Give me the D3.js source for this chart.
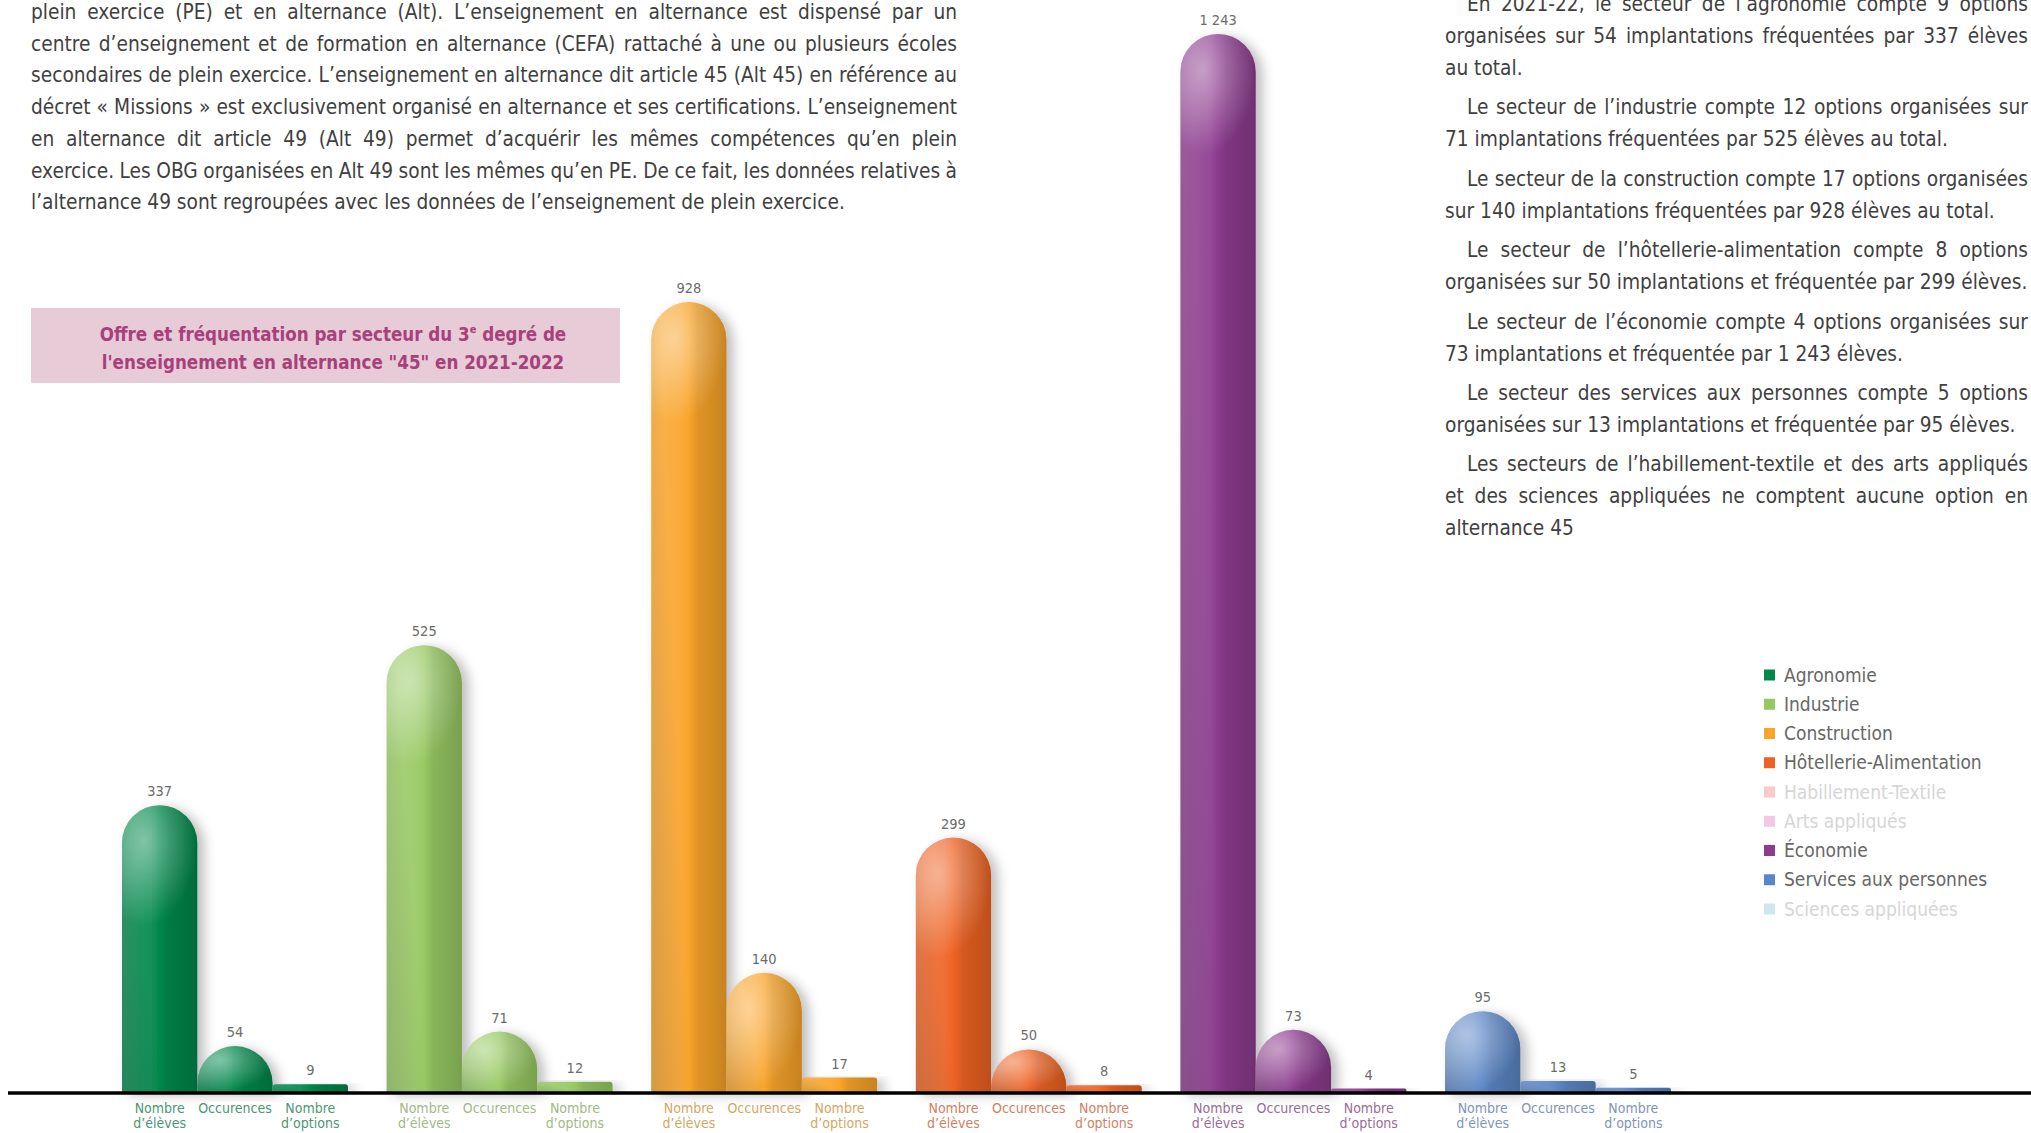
<!DOCTYPE html>
<html>
<head>
<meta http-equiv="Content-type" content="text/html; charset=utf-8">
<title>Alternance 45 - 2021-2022</title>
<script src="https://cdn.jsdelivr.net/npm/d3@7"></script>
<style>
  body { margin: 0; background: #fff; overflow: hidden; }
  svg text { font-family: "Liberation Sans Narrow", "DejaVu Sans Condensed", "Roboto", sans-serif; }
</style>
</head>
<body>
<svg id="chart" width="2031" height="1133"></svg>
<script>

// sectors that have bars
var sectors = ["Agronomie", "Industrie", "Construction", "Hôtellerie-Alimentation", "Économie", "Services aux personnes"];
var eleves = [337, 525, 928, 299, 1243, 95];
var occurences = [54, 71, 140, 50, 73, 13];
var nbOptions = [9, 12, 17, 8, 4, 5];
var metrics = ["eleves", "occurences", "options"];
var metricLabels = [["Nombre", "d’élèves"], ["Occurences"], ["Nombre", "d’options"]];

// legend (all sectors, some with no data)
var legendNames = ["Agronomie", "Industrie", "Construction", "Hôtellerie-Alimentation", "Habillement-Textile", "Arts appliqués", "Économie", "Services aux personnes", "Sciences appliquées"];
var legendColors = ["#00874a", "#97c963", "#f9a42a", "#ee6324", "#f8caca", "#f3c8e2", "#8c3b8e", "#5b86c6", "#cfe6ee"];
var legendActive = [true, true, true, true, false, false, true, true, false];

var titleLines = ["Offre et fréquentation par secteur du 3", "l'enseignement en alternance \"45\" en 2021-2022"];

var leftLines = [
  "plein exercice (PE) et en alternance (Alt). L’enseignement en alternance est dispensé par un",
  "centre d’enseignement et de formation en alternance (CEFA) rattaché à une ou plusieurs écoles",
  "secondaires de plein exercice. L’enseignement en alternance dit article 45 (Alt 45) en référence au",
  "décret « Missions » est exclusivement organisé en alternance et ses certifications. L’enseignement",
  "en alternance dit article 49 (Alt 49) permet d’acquérir les mêmes compétences qu’en plein",
  "exercice. Les OBG organisées en Alt 49 sont les mêmes qu’en PE. De ce fait, les données relatives à",
  "l’alternance 49 sont regroupées avec les données de l’enseignement de plein exercice."
];

var rightParas = [
  ["En 2021-22, le secteur de l’agronomie compte 9 options", "organisées sur 54 implantations fréquentées par 337 élèves", "au total."],
  ["Le secteur de l’industrie compte 12 options organisées sur", "71 implantations fréquentées par 525 élèves au total."],
  ["Le secteur de la construction compte 17 options organisées", "sur 140 implantations fréquentées par 928 élèves au total."],
  ["Le secteur de l’hôtellerie-alimentation compte 8 options", "organisées sur 50 implantations et fréquentée par 299 élèves."],
  ["Le secteur de l’économie compte 4 options organisées sur", "73 implantations et fréquentée par 1 243 élèves."],
  ["Le secteur des services aux personnes compte 5 options", "organisées sur 13 implantations et fréquentée par 95 élèves."],
  ["Les secteurs de l’habillement-textile et des arts appliqués", "et des sciences appliquées ne comptent aucune option en", "alternance 45"]
];

var svg = d3.select("#chart");
var defs = svg.append("defs");

var baseline = 1092;
var fmt = d3.formatLocale({decimal: ",", thousands: " ", grouping: [3], currency: ["", " €"]}).format(",");

function sectorColor(s) { return legendColors[legendNames.indexOf(s)]; }

// ---------- body text (justified lines) ----------
var textColor = "#3f3f3f";

// calibrate font size so a natural line has the width seen in the picture
var probe = svg.append("text").attr("font-size", 22).text(leftLines[6]);
var bodySize = 22 * 814 / probe.node().getComputedTextLength();
bodySize = Math.max(17, Math.min(26, bodySize));
probe.remove();

function writeLine(g, txt, x, y, width, justify) {
  var t = g.append("text")
    .attr("x", x).attr("y", y)
    .attr("font-size", bodySize)
    .attr("fill", textColor)
    .text(txt);
  if (justify) {
    var n = txt.split(" ").length - 1;
    var L = t.node().getComputedTextLength();
    if (n > 0) t.attr("word-spacing", (width - L) / n);
  }
}

var leftG = svg.append("g");
leftLines.forEach(function (l, i) {
  writeLine(leftG, l, 31, 19 + i * 31.7, 926, i < leftLines.length - 1);
});

var rightG = svg.append("g");
var ry = 11;
rightParas.forEach(function (p) {
  p.forEach(function (l, i) {
    var indent = i === 0 ? 22 : 0;
    writeLine(rightG, l, 1445 + indent, ry, 583 - indent, i < p.length - 1);
    ry += 32;
  });
  ry += 7.4;
});

// ---------- title box ----------
svg.append("rect")
  .attr("x", 31).attr("y", 308).attr("width", 589).attr("height", 75)
  .attr("fill", "#e7cbd7");

var tt = svg.append("text")
  .attr("x", 333).attr("y", 341)
  .attr("text-anchor", "middle")
  .attr("font-size", 18.6).attr("font-weight", "bold")
  .attr("fill", "#a8407b");
tt.append("tspan").text(titleLines[0]);
tt.append("tspan").attr("font-size", 11).attr("dy", -8).text("e");
tt.append("tspan").attr("dy", 8).text(" degré de");
svg.append("text")
  .attr("x", 333).attr("y", 369)
  .attr("text-anchor", "middle")
  .attr("font-size", 18.6).attr("font-weight", "bold")
  .attr("fill", "#a8407b")
  .text(titleLines[1]);

// ---------- scales ----------
var x0 = d3.scaleBand().domain(sectors).range([122, 1671]).paddingInner(0.146).paddingOuter(0);
var x1 = d3.scaleBand().domain(metrics).range([0, x0.bandwidth()]).padding(0);
var y = d3.scaleLinear().domain([0, 1243]).range([baseline, 34]);

var rows = [];
sectors.forEach(function (s, i) {
  var vals = [eleves[i], occurences[i], nbOptions[i]];
  metrics.forEach(function (m, j) {
    rows.push({sector: s, metric: m, mi: j, value: vals[j], color: sectorColor(s)});
  });
});

// shadow filter
var f = defs.append("filter").attr("id", "shadow")
  .attr("x", "-30%").attr("y", "-10%").attr("width", "180%").attr("height", "130%");
f.append("feDropShadow")
  .attr("dx", 7).attr("dy", 3).attr("stdDeviation", 6)
  .attr("flood-color", "#000").attr("flood-opacity", 0.25);

// gradients per sector
sectors.forEach(function (s, i) {
  var c = sectorColor(s);
  var g = defs.append("linearGradient").attr("id", "lg" + i)
    .attr("x1", 0).attr("y1", 0).attr("x2", 1).attr("y2", 0);
  g.append("stop").attr("offset", 0).attr("stop-color", d3.interpolateRgb(c, "#fff")(0.18));
  g.append("stop").attr("offset", 0.38).attr("stop-color", d3.interpolateRgb(c, "#fff")(0.08));
  g.append("stop").attr("offset", 0.5).attr("stop-color", c);
  g.append("stop").attr("offset", 0.62).attr("stop-color", d3.interpolateRgb(c, "#000")(0.1));
  g.append("stop").attr("offset", 1).attr("stop-color", d3.interpolateRgb(c, "#000")(0.2));
});

var hl = defs.append("radialGradient").attr("id", "hl")
  .attr("cx", 0.3).attr("cy", 0.3).attr("r", 0.7);
hl.append("stop").attr("offset", 0).attr("stop-color", "#fff").attr("stop-opacity", 0.45);
hl.append("stop").attr("offset", 1).attr("stop-color", "#fff").attr("stop-opacity", 0);

var shade = defs.append("linearGradient").attr("id", "shade")
  .attr("x1", 0).attr("y1", 1).attr("x2", 1).attr("y2", 0.6);
shade.append("stop").attr("offset", 0).attr("stop-color", "#000").attr("stop-opacity", 0.15);
shade.append("stop").attr("offset", 0.45).attr("stop-color", "#000").attr("stop-opacity", 0);

function barPath(x, w, top) {
  var h = baseline - top;
  var r = w / 2;
  if (h > r + 2) {
    return "M" + x + "," + baseline + "V" + (top + r) +
      "A" + r + "," + r + " 0 0 1 " + (x + w) + "," + (top + r) +
      "V" + baseline + "Z";
  }
  var rr = Math.min(3, h / 2);
  return "M" + x + "," + baseline + "V" + (top + rr) +
    "Q" + x + "," + top + " " + (x + rr) + "," + top +
    "H" + (x + w - rr) +
    "Q" + (x + w) + "," + top + " " + (x + w) + "," + (top + rr) +
    "V" + baseline + "Z";
}

var bars = svg.append("g").selectAll("g.bar")
  .data(rows)
  .enter().append("g")
  .attr("class", "bar");

bars.append("path")
  .attr("d", function (d) { return barPath(x0(d.sector) + x1(d.metric), x1.bandwidth(), y(d.value)); })
  .attr("fill", function (d) { return "url(#lg" + sectors.indexOf(d.sector) + ")"; })
  .attr("filter", "url(#shadow)");

bars.append("path")
  .attr("d", function (d) { return barPath(x0(d.sector) + x1(d.metric), x1.bandwidth(), y(d.value)); })
  .attr("fill", "url(#shade)");

// top highlight on the rounded caps
bars.filter(function (d) { return baseline - y(d.value) > x1.bandwidth() / 2 + 2; })
  .append("path")
  .attr("d", function (d) {
    var w = x1.bandwidth();
    var top = y(d.value);
    var h = Math.min(baseline - top, w * 1.6);
    var x = x0(d.sector) + x1(d.metric);
    var r = w / 2;
    return "M" + x + "," + (top + h) + "V" + (top + r) +
      "A" + r + "," + r + " 0 0 1 " + (x + w) + "," + (top + r) +
      "V" + (top + h) + "Z";
  })
  .attr("fill", "url(#hl)");

// value labels
bars.append("text")
  .attr("x", function (d) { return x0(d.sector) + x1(d.metric) + x1.bandwidth() / 2; })
  .attr("y", function (d) { return y(d.value) - 9; })
  .attr("text-anchor", "middle")
  .attr("font-size", 14.5)
  .attr("fill", "#6b6b6b")
  .text(function (d) { return fmt(d.value); });

// category labels under bars
var lab = svg.append("g").selectAll("text.cat")
  .data(rows)
  .enter().append("text")
  .attr("class", "cat")
  .attr("text-anchor", "middle")
  .attr("font-size", 14)
  .attr("fill", function (d) { return d3.interpolateRgb(d.color, "#a8a8a8")(0.45); })
  .attr("x", function (d) { return x0(d.sector) + x1(d.metric) + x1.bandwidth() / 2; })
  .attr("y", 1113);
lab.selectAll("tspan")
  .data(function (d) { return metricLabels[d.mi]; })
  .enter().append("tspan")
  .attr("x", function () { return d3.select(this.parentNode).attr("x"); })
  .attr("dy", function (d, i) { return i === 0 ? 0 : 15; })
  .text(function (d) { return d; });

// axis line
svg.append("line")
  .attr("x1", 8).attr("x2", 2031)
  .attr("y1", baseline + 1).attr("y2", baseline + 1)
  .attr("stroke", "#000").attr("stroke-width", 3.5);

// ---------- legend ----------
var leg = svg.append("g").selectAll("g.leg")
  .data(legendNames)
  .enter().append("g")
  .attr("class", "leg")
  .attr("transform", function (d, i) { return "translate(1764," + (675 + i * 29.25) + ")"; });
leg.append("rect")
  .attr("x", 0).attr("y", -5.5).attr("width", 11).attr("height", 11)
  .attr("fill", function (d, i) { return legendColors[i]; });
leg.append("text")
  .attr("x", 20).attr("y", 6.5)
  .attr("font-size", 19)
  .attr("fill", function (d, i) { return legendActive[i] ? "#676767" : "#d6d6d6"; })
  .text(function (d) { return d; });

</script>
</body>
</html>
